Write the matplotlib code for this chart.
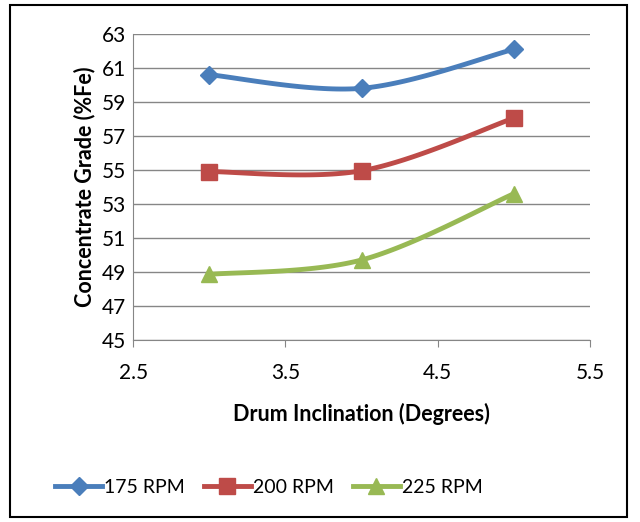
import matplotlib.pyplot as plt
import numpy as np
from matplotlib.patches import Rectangle

plt.rcParams["font.family"] = ["Lato", "DejaVu Sans"]

inclination = [3, 4, 5]
rpm_175 = [60.6, 59.8, 62.1]
rpm_200 = [54.9, 54.95, 58.05]
rpm_225 = [48.85, 49.7, 53.6]

labels = ["175 RPM", "200 RPM", "225 RPM"]
colors = ["#4A7EBB", "#BE4B48", "#98B954"]
markers = ["D", "s", "^"]
msizes = [9, 11, 11]


def smooth(x, y, n=40):
    # excel style smoothed line: cubic bezier through points (catmull-rom)
    x = np.asarray(x, float)
    y = np.asarray(y, float)
    px = np.concatenate([[x[0]], x, [x[-1]]])
    py = np.concatenate([[y[0]], y, [y[-1]]])
    xs, ys = [], []
    t = np.linspace(0, 1, n)
    for i in range(1, len(px) - 2):
        p0 = np.array([px[i], py[i]])
        p3 = np.array([px[i + 1], py[i + 1]])
        p1 = p0 + (np.array([px[i + 1], py[i + 1]]) - np.array([px[i - 1], py[i - 1]])) / 6
        p2 = p3 - (np.array([px[i + 2], py[i + 2]]) - np.array([px[i], py[i]])) / 6
        b = ((1 - t) ** 3)[:, None] * p0 + (3 * (1 - t) ** 2 * t)[:, None] * p1 \
            + (3 * (1 - t) * t ** 2)[:, None] * p2 + (t ** 3)[:, None] * p3
        xs.extend(b[:, 0])
        ys.extend(b[:, 1])
    return xs, ys


fig = plt.figure(figsize=(6.4, 5.22), dpi=100)
ax = fig.add_axes([0.208, 0.349, 0.714, 0.586])

for vals, label, color, m, ms in zip([rpm_175, rpm_200, rpm_225], labels, colors, markers, msizes):
    sx, sy = smooth(inclination, vals)
    ax.plot(sx, sy, color=color, lw=3.5, solid_capstyle="round")
    ax.plot(inclination, vals, linestyle="none", marker=m, color=color, markersize=ms)
    ax.plot([], [], color=color, lw=3.5, marker=m, markersize=ms, label=label)

ax.set_xlim(2.5, 5.5)
ax.set_ylim(45, 63)
ax.set_xticks([2.5, 3.5, 4.5, 5.5])
ax.set_xticklabels(["2.5", "3.5", "4.5", "5.5"])
ax.set_yticks(np.arange(45, 64, 2))
ax.grid(axis="y", color="#868686", lw=1)
ax.set_axisbelow(True)
for s in ["top", "right"]:
    ax.spines[s].set_visible(False)
ax.spines["left"].set_color("#868686")
ax.spines["bottom"].set_color("#868686")
ax.tick_params(axis="both", labelsize=15, color="#868686", length=5, direction="out")
ax.tick_params(axis="y", length=0, pad=5)
ax.tick_params(axis="x", pad=12)

ax.set_xlabel("Drum Inclination (Degrees)", fontsize=15.5, fontweight="bold", labelpad=14)
ax.set_ylabel("Concentrate Grade (%Fe)", fontsize=15.5, fontweight="bold", labelpad=5)

fig.legend(loc="center", bbox_to_anchor=(0.42, 0.066), ncol=3, frameon=False,
           fontsize=14, handlelength=2.4, columnspacing=1.0, handletextpad=0.1)

fig.patches.append(Rectangle((0.016, 0.01), 0.964, 0.98, transform=fig.transFigure,
                             fill=False, edgecolor="black", lw=1.5))

plt.savefig("out.png", dpi=100)
